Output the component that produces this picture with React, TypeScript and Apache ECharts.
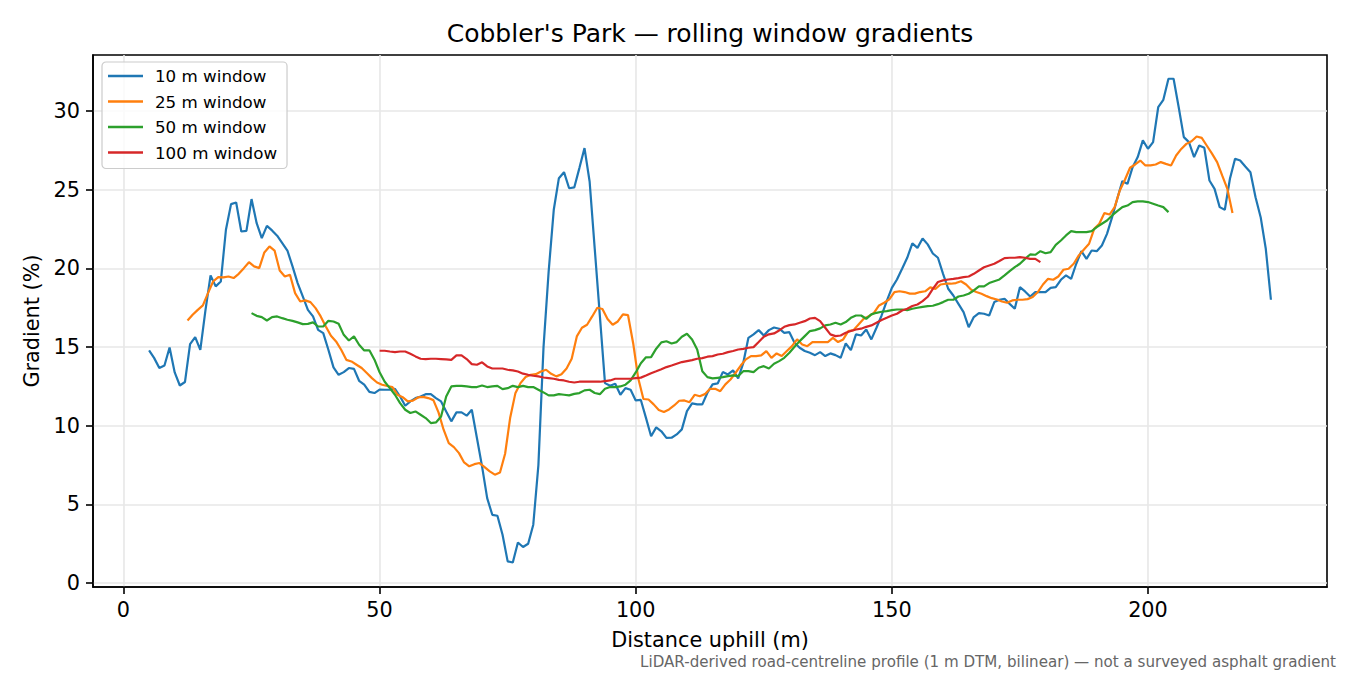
import { useEffect, useRef } from 'react';
import * as echarts from 'echarts';

// gradient (%) per metre
const start10 = 5;
const grad10 = [
  14.79, 14.3, 13.67, 13.83, 14.98, 13.39, 12.56, 12.78, 15.19, 15.64,
  14.83, 17.33, 19.56, 18.86, 19.17, 22.46, 24.09, 24.19, 22.35, 22.39,
  24.41, 22.88, 21.93, 22.71, 22.42, 22.08, 21.61, 21.14, 20.13, 19.07,
  18.22, 17.37, 16.95, 16.1, 15.89, 14.83, 13.71, 13.24, 13.41, 13.67,
  13.62, 12.86, 12.61, 12.15, 12.08, 12.3, 12.29, 12.3, 12.35, 11.86,
  11.27, 11.55, 11.76, 11.86, 12.01, 12.01, 11.76, 11.55, 10.91, 10.28,
  10.85, 10.85, 10.64, 11.02, 9.22, 7.42, 5.4, 4.34, 4.28, 3.07,
  1.38, 1.31, 2.58, 2.29, 2.5, 3.71, 7.5, 15.0, 19.8, 23.73,
  25.74, 26.12, 25.1, 25.15, 26.38, 27.65, 25.53, 21.25, 16.99, 12.71,
  12.54, 12.67, 11.97, 12.39, 12.29, 11.61, 11.64, 10.5, 9.33, 9.9,
  9.65, 9.23, 9.24, 9.45, 9.77, 10.93, 11.42, 11.36, 11.36, 12.1,
  12.63, 12.69, 13.41, 13.26, 13.52, 13.01, 14.0, 15.59, 15.81, 16.08,
  15.74, 16.08, 16.25, 16.17, 15.91, 15.95, 15.28, 14.96, 14.75, 14.64,
  14.49, 14.68, 14.43, 14.6, 14.49, 14.32, 15.23, 14.81, 15.81, 15.74,
  16.12, 15.49, 16.23, 17.01, 17.92, 18.77, 19.3, 19.98, 20.68, 21.59,
  21.31, 21.91, 21.53, 20.95, 20.68, 19.66, 18.71, 18.28, 17.75, 17.22,
  16.27, 16.91, 17.16, 17.12, 17.01, 17.86, 18.01, 18.07, 17.75, 17.44,
  18.81, 18.54, 18.22, 18.5, 18.5, 18.5, 18.77, 18.81, 19.28, 19.56,
  19.34, 20.3, 21.1, 20.61, 21.14, 21.1, 21.46, 22.2, 23.26, 24.43,
  25.55, 25.38, 26.44, 27.08, 28.14, 27.61, 28.03, 30.25, 30.72, 32.06,
  32.06, 30.25, 28.35, 28.03, 27.08, 27.82, 27.67, 25.59, 25.06, 23.9,
  23.73, 25.7, 26.97, 26.86, 26.48, 26.12, 24.53, 23.26, 21.25, 18.01,
];

const start25 = 12.5;
const grad25 = [
  16.69, 17.06, 17.37, 17.65, 18.43, 19.17, 19.45, 19.43, 19.49, 19.39,
  19.66, 20.02, 20.4, 20.13, 20.02, 21.02, 21.4, 21.14, 19.87, 19.49,
  19.6, 18.43, 17.9, 17.97, 17.86, 17.48, 16.95, 16.31, 15.72, 15.36,
  14.83, 14.19, 14.09, 13.88, 13.67, 13.35, 13.03, 12.75, 12.61, 12.53,
  12.46, 11.97, 11.82, 11.55, 11.6, 11.8, 11.84, 11.76, 11.63, 10.85,
  9.75, 8.9, 8.64, 8.26, 7.67, 7.42, 7.56, 7.63, 7.37, 7.1,
  6.89, 7.03, 8.22, 10.53, 12.06, 12.71, 13.1, 13.24, 13.28, 13.45,
  13.56, 13.3, 13.14, 13.28, 13.64, 14.26, 15.68, 16.23, 16.42, 16.95,
  17.5, 17.42, 16.78, 16.42, 16.63, 17.08, 17.03, 15.25, 13.0, 11.7,
  11.67, 11.36, 11.0, 10.87, 11.04, 11.29, 11.59, 11.61, 11.5, 11.97,
  11.88, 12.01, 12.35, 12.35, 12.2, 12.63, 12.94, 13.37, 13.83, 14.22,
  14.43, 14.43, 14.47, 14.75, 14.32, 14.6, 14.43, 14.75, 15.06, 15.49,
  15.17, 15.06, 15.32, 15.32, 15.32, 15.32, 15.59, 15.32, 15.49, 16.02,
  16.08, 16.44, 16.8, 16.97, 17.18, 17.65, 17.82, 18.03, 18.5, 18.55,
  18.5, 18.4, 18.4, 18.5, 18.55, 18.8, 18.7, 18.98, 19.03, 19.03,
  19.07, 19.19, 18.98, 18.64, 18.5, 18.39, 18.24, 18.11, 18.03, 17.9,
  17.82, 17.97, 18.01, 18.01, 18.05, 18.18, 18.5, 18.98, 19.34, 19.28,
  19.49, 19.92, 19.98, 20.3, 20.83, 21.21, 21.57, 22.52, 22.84, 23.52,
  23.43, 23.9, 24.96, 25.64, 26.4, 26.61, 26.86, 26.55, 26.55, 26.61,
  26.76, 26.65, 26.55, 27.18, 27.6, 27.92, 28.09, 28.39, 28.3, 27.8,
  27.3, 26.76, 25.9, 25.06, 23.52,
];

const start50 = 25;
const grad50 = [
  17.16, 16.99, 16.91, 16.69, 16.91, 16.95, 16.84, 16.74, 16.67, 16.57,
  16.46, 16.48, 16.57, 16.31, 16.31, 16.67, 16.63, 16.48, 15.78, 15.42,
  15.68, 15.15, 14.79, 14.8, 14.2, 13.4, 12.8, 12.39, 11.97, 11.44,
  11.02, 10.81, 10.91, 10.7, 10.49, 10.17, 10.21, 10.59, 11.86, 12.5,
  12.54, 12.54, 12.5, 12.46, 12.46, 12.56, 12.46, 12.5, 12.54, 12.33,
  12.39, 12.54, 12.46, 12.54, 12.46, 12.46, 12.29, 12.12, 11.93, 11.93,
  12.01, 11.97, 11.93, 12.03, 12.08, 12.25, 12.29, 12.08, 12.01, 12.35,
  12.46, 12.46, 12.5, 12.61, 12.88, 13.39, 13.98, 14.35, 14.36, 14.9,
  15.3, 15.37, 15.23, 15.32, 15.66, 15.85, 15.49, 14.85, 13.47, 13.09,
  13.01, 13.05, 13.09, 13.16, 13.2, 13.16, 13.47, 13.47, 13.41, 13.69,
  13.79, 13.64, 13.94, 14.11, 14.32, 14.64, 15.02, 15.38, 15.7, 16.02,
  16.08, 16.19, 16.38, 16.44, 16.55, 16.44, 16.59, 16.86, 17.01, 17.01,
  16.8, 17.08, 17.18, 17.25, 17.29, 17.35, 17.39, 17.39, 17.35, 17.44,
  17.5, 17.56, 17.61, 17.63, 17.73, 17.86, 18.01, 18.01, 18.22, 18.28,
  18.39, 18.6, 18.86, 18.86, 19.07, 19.19, 19.3, 19.56, 19.83, 20.08,
  20.3, 20.61, 20.89, 20.87, 21.1, 20.97, 21.04, 21.5, 21.78, 22.1,
  22.37, 22.31, 22.31, 22.31, 22.37, 22.63, 22.84, 23.05, 23.37, 23.64,
  23.9, 24.0, 24.22, 24.26, 24.26, 24.22, 24.11, 24.0, 23.9, 23.58,
];

const start100 = 50;
const grad100 = [
  14.77, 14.77, 14.72, 14.68, 14.72, 14.72, 14.58, 14.41, 14.26, 14.24,
  14.26, 14.26, 14.24, 14.22, 14.19, 14.47, 14.47, 14.24, 13.92, 13.88,
  14.03, 13.77, 13.64, 13.64, 13.64, 13.56, 13.52, 13.45, 13.31, 13.24,
  13.18, 13.14, 13.07, 13.03, 12.99, 12.92, 12.88, 12.8, 12.75, 12.8,
  12.8, 12.8, 12.8, 12.8, 12.84, 12.88, 12.99, 12.99, 12.99, 12.99,
  13.03, 13.06, 13.19, 13.34, 13.46, 13.59, 13.73, 13.83, 13.94, 14.05,
  14.11, 14.17, 14.26, 14.3, 14.39, 14.43, 14.53, 14.58, 14.68, 14.75,
  14.85, 14.89, 14.96, 15.0, 15.32, 15.66, 15.81, 15.87, 16.06, 16.29,
  16.4, 16.44, 16.55, 16.65, 16.82, 16.86, 16.65, 16.23, 15.81, 15.7,
  15.74, 15.91, 16.02, 16.12, 16.17, 16.29, 16.38, 16.55, 16.72, 16.86,
  17.01, 17.12, 17.33, 17.44, 17.61, 17.71, 17.92, 18.2, 18.7, 19.14,
  19.24, 19.3, 19.34, 19.39, 19.45, 19.49, 19.66, 19.87, 20.08, 20.19,
  20.3, 20.47, 20.66, 20.68, 20.68, 20.72, 20.68, 20.61, 20.61, 20.4,
];

const windowNames = ['10 m window', '25 m window', '50 m window', '100 m window'];
const colors = ['#1f77b4', '#ff7f0e', '#2ca02c', '#d62728'];
const xTicks = [0, 50, 100, 150, 200];
const yTicks = [0, 5, 10, 15, 20, 25, 30];

const FONT = 'DejaVu Sans';

const toPairs = (startAt: number, vals: number[]) => vals.map((v, i) => [startAt + i, v]);

export default function App() {
  const chartRef = useRef<HTMLDivElement>(null);

  useEffect(() => {
    if (!chartRef.current) return;
    const chart = echarts.init(chartRef.current, null, { renderer: 'svg' });
    const lists = [
      toPairs(start10, grad10),
      toPairs(start25, grad25),
      toPairs(start50, grad50),
      toPairs(start100, grad100),
    ];

    chart.setOption({
      animation: false,
      textStyle: { fontFamily: FONT },
      grid: {
        left: 93,
        right: 23,
        top: 55,
        bottom: 88,
        show: true,
        borderColor: '#000',
        borderWidth: 1.6,
        backgroundColor: 'transparent',
      },
      graphic: [
        {
          type: 'text',
          x: 710,
          y: 33,
          style: {
            text: "Cobbler's Park \u2014 rolling window gradients",
            fontFamily: FONT,
            fontSize: 25,
            fill: '#000',
            align: 'center',
            verticalAlign: 'middle',
          },
        },
        {
          type: 'text',
          x: 1336,
          y: 662,
          style: {
            text: 'LiDAR-derived road-centreline profile (1 m DTM, bilinear) \u2014 not a surveyed asphalt gradient',
            fontFamily: FONT,
            fontSize: 15.1,
            fill: '#666',
            align: 'right',
            verticalAlign: 'middle',
          },
        },
      ],
      legend: {
        data: windowNames,
        orient: 'vertical',
        left: 102,
        top: 62,
        icon: 'rect',
        itemWidth: 35,
        itemHeight: 2.4,
        itemGap: 8.5,
        padding: [5.5, 10, 7.5, 6],
        backgroundColor: 'rgba(255,255,255,0.8)',
        borderColor: '#cccccc',
        borderWidth: 1.2,
        borderRadius: 4,
        textStyle: {
          fontFamily: FONT,
          fontSize: 16.7,
          color: '#000',
          lineHeight: 17,
          padding: [0, 0, 0, 7],
        },
      },
      xAxis: {
        type: 'value',
        min: -5.95,
        max: 234.95,
        name: 'Distance uphill (m)',
        nameLocation: 'middle',
        nameGap: 42,
        nameTextStyle: { fontFamily: FONT, fontSize: 20.8, color: '#000' },
        axisLine: { show: true, onZero: false, lineStyle: { color: '#000', width: 1.6 } },
        axisTick: { show: true, customValues: xTicks, length: 7, lineStyle: { color: '#000', width: 1.6 } },
        axisLabel: { customValues: xTicks, margin: 12, fontFamily: FONT, fontSize: 20.8, color: '#000' },
        splitLine: { show: true, lineStyle: { color: '#e7e7e7', width: 1.6 } },
      },
      yAxis: {
        type: 'value',
        min: -0.25,
        max: 33.57,
        name: 'Gradient (%)',
        nameLocation: 'middle',
        nameGap: 49,
        nameTextStyle: { fontFamily: FONT, fontSize: 20.8, color: '#000' },
        axisLine: { show: true, onZero: false, lineStyle: { color: '#000', width: 1.6 } },
        axisTick: { show: true, customValues: yTicks, length: 7, lineStyle: { color: '#000', width: 1.6 } },
        axisLabel: { customValues: yTicks, margin: 13, fontFamily: FONT, fontSize: 20.8, color: '#000' },
        splitLine: { show: true, lineStyle: { color: '#e7e7e7', width: 1.6 } },
      },
      series: windowNames.map((name, i) => ({
        name,
        type: 'line',
        data: lists[i],
        symbol: 'none',
        color: colors[i],
        lineStyle: { color: colors[i], width: 2.2 },
        itemStyle: { color: colors[i] },
      })),
    });

    return () => {
      chart.dispose();
    };
  }, []);

  return (
    <div
      ref={chartRef}
      style={{ position: 'fixed', left: 0, top: 0, width: 1350, height: 675, background: '#fff' }}
    />
  );
}
